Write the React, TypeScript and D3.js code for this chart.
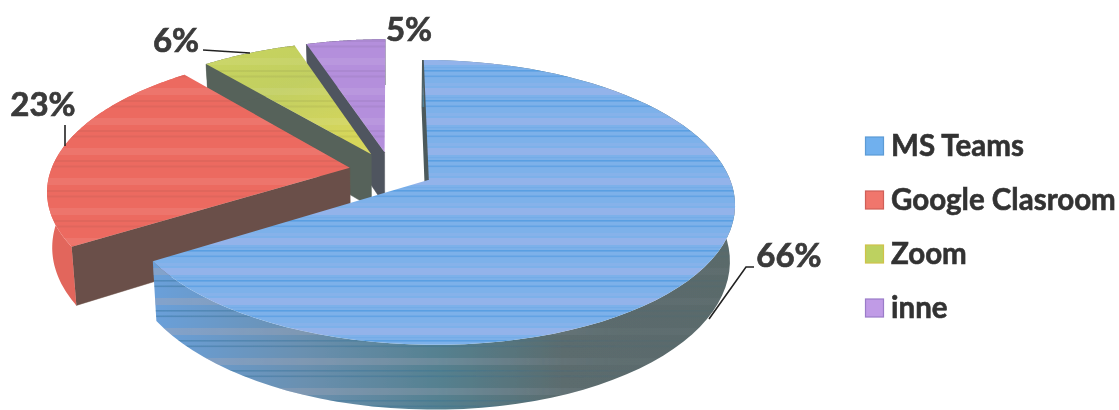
import React from 'react';
import * as d3 from 'd3';

const categories = ['MS Teams', 'Google Clasroom', 'Zoom', 'inne'];
const shares = [66, 23, 6, 5];

const topColors = ['url(#bands)', '#ec6b61', 'url(#topGreen)', '#b48fdc'];
const swatchColors = ['#6fb0ee', '#f0766c', '#bdd160', '#c09be6'];
const swatchEdges = ['#5b9bd5', '#cf5f58', '#cfc24a', '#9a7cc8'];
const wallColors = ['#4d5a5c', '#6b5048', '#56625a', '#50555f'];
const rimColors = ['url(#rimBlue)', '#e2665c', '#56625a', '#50555f'];

// label text anchor points, leaders run from the label to the slice
const labelPos = [
  { x: 789, y: 267 },
  { x: 43, y: 116 },
  { x: 176, y: 52 },
  { x: 409, y: 41 },
];
const leaders: [number, number][][] = [
  [[754, 267], [746, 267], [709, 319]],
  [[65, 125], [65, 146]],
  [[203, 50], [250, 53]],
  [],
];

const width = 1119;
const height = 410;
const cx = 391;
const cy = 170.7;
const radiusX = 299;
const radiusY = 136;
const perspective = 0.156;
const explode = 0.14;
const depth = 54;
const converge = 0.015;

type Pt = [number, number];

// model plane (unit circle, y towards the viewer) to screen
const project = (X: number, Y: number): Pt => {
  const s = 1 / (1 - perspective * Y);
  return [cx + radiusX * X * s, cy + radiusY * Y * s];
};
const lower = (X: number, Y: number): Pt => {
  const s = 1 / (1 - perspective * Y);
  const [x, y] = project(X, Y);
  return [x + (cx - x) * converge, y + depth * s];
};

const arcs = d3.pie<number>().sort(null).value(d => d)(shares);
const line = d3.line();
const legendY = d3.scalePoint<string>().domain(categories).range([146, 308]);

const App: React.FC = () => {
  // drawn back to front
  const order = [3, 2, 1, 0];
  return (
    <svg width={width} height={height} style={{ position: 'absolute', left: 0, top: 0, background: '#fff' }}
      fontFamily="Lato, 'Open Sans', sans-serif" fontWeight="700">
      <defs>
        <filter id="scan" x="0" y="0" width="100%" height="100%">
          <feGaussianBlur stdDeviation="0.45" />
        </filter>
        <pattern id="bands" patternUnits="userSpaceOnUse" width="12" height="30" patternTransform="translate(0,10)">
          <rect width="12" height="30" fill="#7db1ea" />
          <rect y="0" width="12" height="1.6" fill="#5a9fe2" />
          <rect y="5.5" width="12" height="1.6" fill="#62a3e4" />
          <rect y="13" width="12" height="3" fill="#86b2ea" />
          <rect y="18" width="12" height="7" fill="#93b3ea" />
          <rect y="27" width="12" height="1.2" fill="#74ace8" />
        </pattern>
        <pattern id="faint" patternUnits="userSpaceOnUse" width="12" height="30" patternTransform="translate(0,10)">
          <rect y="0" width="12" height="1.6" fill="#2a6c94" />
          <rect y="5.5" width="12" height="1.6" fill="#2a6c94" />
          <rect y="18" width="12" height="7" fill="#a8a8b8" />
        </pattern>
        <pattern id="tint" patternUnits="userSpaceOnUse" width="12" height="30" patternTransform="translate(0,10)">
          <rect y="0" width="12" height="2" fill="#000" opacity="0.05" />
          <rect y="5.5" width="12" height="2" fill="#000" opacity="0.05" />
          <rect y="18" width="12" height="7" fill="#fff" opacity="0.07" />
        </pattern>
        <linearGradient id="rimBlue" gradientUnits="userSpaceOnUse" x1="160" x2="735" y1="0" y2="0">
          <stop offset="0" stopColor="#6b9fd8" />
          <stop offset="0.25" stopColor="#6a90b0" />
          <stop offset="0.49" stopColor="#55808f" />
          <stop offset="0.7" stopColor="#5b6c6e" />
          <stop offset="1" stopColor="#5a6a6b" />
        </linearGradient>
        <linearGradient id="rimFade" gradientUnits="userSpaceOnUse" x1="160" x2="620" y1="0" y2="0">
          <stop offset="0" stopColor="#fff" stopOpacity="0.4" />
          <stop offset="0.6" stopColor="#fff" stopOpacity="0.28" />
          <stop offset="1" stopColor="#fff" stopOpacity="0.05" />
        </linearGradient>
        <mask id="rimMask" maskUnits="userSpaceOnUse" x="0" y="0" width={width} height={height}>
          <rect width={width} height={height} fill="url(#rimFade)" />
        </mask>
        <linearGradient id="topGreen" x1="0" x2="0.6" y1="0" y2="1">
          <stop offset="0" stopColor="#c8d45c" />
          <stop offset="0.5" stopColor="#c2cf62" />
          <stop offset="1" stopColor="#d6d65a" />
        </linearGradient>
      </defs>

      <g filter="url(#scan)">
        {order.map(i => {
          const a = arcs[i];
          const mid = (a.startAngle + a.endAngle) / 2;
          const ox = explode * Math.sin(mid);
          const oy = -explode * Math.cos(mid);
          const angle = d3.scaleLinear().domain([0, 80]).range([a.startAngle, a.endAngle]);
          const model = d3.range(81).map(k => [ox + Math.sin(angle(k)), oy - Math.cos(angle(k))] as Pt);
          const topArc = model.map(([X, Y]) => project(X, Y));
          const lowArc = model.map(([X, Y]) => lower(X, Y));
          const rim = line([...topArc, ...[...lowArc].reverse()]) + 'Z';
          const wall = line([project(ox, oy), topArc[0], lowArc[0], lower(ox, oy)]) + 'Z';
          const top = line([project(ox, oy), ...topArc]) + 'Z';
          return (
            <g key={categories[i]}>
              <path d={wall} fill={wallColors[i]} stroke={wallColors[i]} strokeWidth={i === 0 ? 2 : 0.5} />
              <path d={rim} fill={rimColors[i]} />
              {i === 0 && <path d={rim} fill="url(#faint)" mask="url(#rimMask)" />}
              <path d={top} fill={topColors[i]} />
              {i !== 0 && <path d={top} fill="url(#tint)" />}
              {i === 0 && <path d={line([project(ox, oy), topArc[0]]) ?? ''} stroke="#4d5a5c" strokeWidth="1.5" fill="none" />}
            </g>
          );
        })}

        {leaders.map((pts, i) => pts.length > 0 && (
          <path key={i} d={line(pts) ?? ''} fill="none" stroke="#222" strokeWidth="1.6" />
        ))}
        {shares.map((v, i) => (
          <text key={i} x={labelPos[i].x} y={labelPos[i].y} textAnchor="middle" fontSize="33" fill="#3a3a3a"
            stroke="#3a3a3a" strokeWidth="0.7">{v}%</text>
        ))}

        {categories.map((c, i) => {
          const y = legendY(c) ?? 0;
          return (
            <g key={c}>
              <rect x={865.5} y={y - 9} width={18} height={18} fill={swatchColors[i]} stroke={swatchEdges[i]} strokeWidth="1.2" />
              <text x={891} y={y + 9.5} fontSize="29.5" fill="#333" stroke="#333" strokeWidth="0.6">{c}</text>
            </g>
          );
        })}
      </g>
    </svg>
  );
};

export default App;
